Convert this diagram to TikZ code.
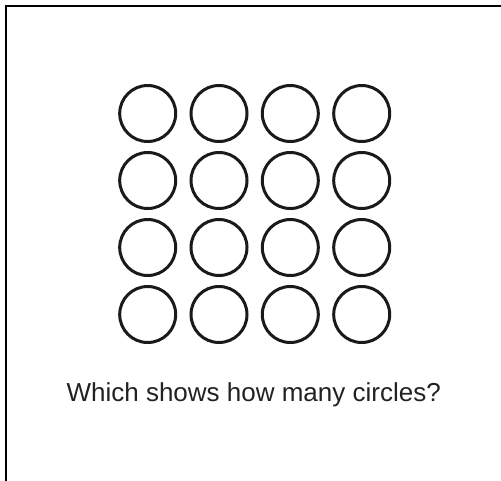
\documentclass[tikz,border=0pt]{standalone}
\usepackage{fontspec}
\setmainfont{Liberation Sans}
\definecolor{ink}{HTML}{1A1A1A}
\definecolor{txt}{HTML}{222222}
\begin{document}
\begin{tikzpicture}[x=1pt,y=-1pt,
  ring/.style={circle,draw=ink,line width=3pt,minimum size=56pt,inner sep=0pt},
  frame/.style={draw=black,line width=2pt}]
\useasboundingbox (0,0) rectangle (501,480);
\draw[frame] (5.7,481) -- (5.7,6) -- (502,6);
\foreach \r/\y in {1/113.5,2/180.5,3/247.5,4/314.5}{
  \foreach \c/\x in {1/147.7,2/219,3/290.3,4/361.7}{
    \node[ring] (c\r\c) at (\x,\y) {};
  }
}
\node[anchor=base,text=txt,font=\fontsize{26}{30}\selectfont,inner sep=0pt] (q) at (253.7,401) {Which shows how many circles?};
\end{tikzpicture}
\end{document}
